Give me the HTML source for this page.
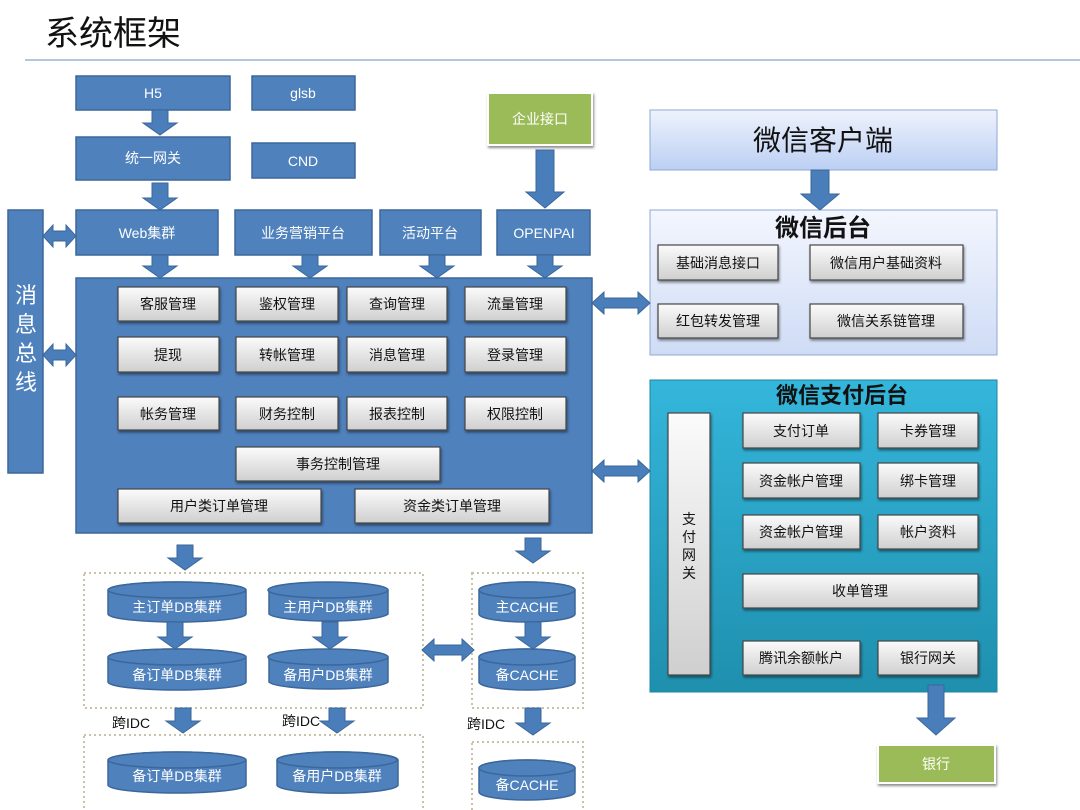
<!DOCTYPE html>
<html><head><meta charset="utf-8"><style>
html,body{margin:0;padding:0;background:#fff;}
svg{display:block;font-family:"Liberation Sans","Noto Sans CJK SC",sans-serif;}
.b{fill:#4f81bd;stroke:#3b679a;stroke-width:1.5}
.a{fill:#4a7ebb;stroke:#3b679a;stroke-width:1}
.w{fill:#fff;font-size:14px;text-anchor:middle}
.g{fill:url(#gg);stroke:#444;stroke-width:1.2;filter:url(#sh)}
.t{fill:#111;font-size:14px;text-anchor:middle}
.d{fill:none;stroke:#c9c2a4;stroke-width:2;stroke-dasharray:2 3}
</style></head><body>
<svg width="1080" height="810" viewBox="0 0 1080 810">
<defs>
<linearGradient id="gg" x1="0" y1="0" x2="0" y2="1"><stop offset="0" stop-color="#fbfbfb"/><stop offset="1" stop-color="#cfcfcf"/></linearGradient>
<linearGradient id="lb" x1="0" y1="0" x2="0" y2="1"><stop offset="0" stop-color="#eef3fd"/><stop offset="1" stop-color="#bccff3"/></linearGradient>
<linearGradient id="lb2" x1="0" y1="0" x2="0" y2="1"><stop offset="0" stop-color="#f3f6fd"/><stop offset="1" stop-color="#cfdcf6"/></linearGradient>
<linearGradient id="tl" x1="0" y1="0" x2="0" y2="1"><stop offset="0" stop-color="#34b6db"/><stop offset="1" stop-color="#1f8fae"/></linearGradient>
<filter id="sh" x="-10%" y="-10%" width="130%" height="140%"><feDropShadow dx="1" dy="2" stdDeviation="1.2" flood-color="#000" flood-opacity="0.45"/></filter>
</defs>
<text x="45" y="45" font-size="34" fill="#111">系统框架</text>
<line x1="25" y1="60" x2="1080" y2="60" stroke="#8aa3c4" stroke-width="1.2"/>

<!-- top boxes -->
<rect class="b" x="76" y="76" width="154" height="34"/><text class="w" x="153" y="98">H5</text>
<rect class="b" x="252" y="76" width="103" height="34"/><text class="w" x="303" y="98">glsb</text>
<rect class="b" x="76" y="137" width="154" height="43"/><text class="w" x="153" y="163">统一网关</text>
<rect class="b" x="252" y="143" width="103" height="35"/><text class="w" x="303" y="166">CND</text>
<rect class="b" x="76" y="210" width="142" height="45"/><text class="w" x="147" y="238">Web集群</text>
<rect class="b" x="235" y="210" width="137" height="45"/><text class="w" x="303" y="238">业务营销平台</text>
<rect class="b" x="380" y="210" width="101" height="45"/><text class="w" x="430" y="238">活动平台</text>
<rect class="b" x="497" y="210" width="93" height="45"/><text class="w" x="544" y="238">OPENPAI</text>
<rect x="488" y="93" width="104" height="52" fill="#9bbb59" stroke="#fff" stroke-width="2" filter="url(#sh)"/><text class="w" x="540" y="124" font-size="15">企业接口</text>

<!-- bus -->
<rect class="b" x="8" y="210" width="35" height="263"/>
<text fill="#fff" font-size="22" text-anchor="middle"><tspan x="26" y="303">消</tspan><tspan x="26" y="332">息</tspan><tspan x="26" y="361">总</tspan><tspan x="26" y="390">线</tspan></text>

<!-- main -->
<rect class="b" x="76" y="278" width="516" height="255"/>
<g>
<rect class="g" x="118" y="287" width="101" height="34"/><text class="t" x="168" y="309">客服管理</text>
<rect class="g" x="236" y="287" width="102" height="34"/><text class="t" x="287" y="309">鉴权管理</text>
<rect class="g" x="347" y="287" width="100" height="34"/><text class="t" x="397" y="309">查询管理</text>
<rect class="g" x="465" y="287" width="101" height="34"/><text class="t" x="515" y="309">流量管理</text>
<rect class="g" x="118" y="337" width="101" height="35"/><text class="t" x="168" y="360">提现</text>
<rect class="g" x="236" y="337" width="102" height="35"/><text class="t" x="287" y="360">转帐管理</text>
<rect class="g" x="347" y="337" width="100" height="35"/><text class="t" x="397" y="360">消息管理</text>
<rect class="g" x="465" y="337" width="101" height="35"/><text class="t" x="515" y="360">登录管理</text>
<rect class="g" x="118" y="397" width="101" height="33"/><text class="t" x="168" y="419">帐务管理</text>
<rect class="g" x="236" y="397" width="102" height="33"/><text class="t" x="287" y="419">财务控制</text>
<rect class="g" x="347" y="397" width="100" height="33"/><text class="t" x="397" y="419">报表控制</text>
<rect class="g" x="465" y="397" width="101" height="33"/><text class="t" x="515" y="419">权限控制</text>
<rect class="g" x="236" y="447" width="204" height="34"/><text class="t" x="338" y="469">事务控制管理</text>
<rect class="g" x="118" y="489" width="203" height="34"/><text class="t" x="219" y="511">用户类订单管理</text>
<rect class="g" x="355" y="489" width="194" height="34"/><text class="t" x="452" y="511">资金类订单管理</text>
</g>

<!-- wechat client -->
<rect x="650" y="110" width="347" height="60" fill="url(#lb)" stroke="#8ea7d6" stroke-width="1"/>
<text x="823" y="150" font-size="28" fill="#111" text-anchor="middle">微信客户端</text>
<rect x="650" y="210" width="347" height="145" fill="url(#lb2)" stroke="#8ea7d6" stroke-width="1"/>
<text x="823" y="236" font-size="24" font-weight="bold" fill="#111" text-anchor="middle">微信后台</text>
<rect class="g" x="658" y="245" width="120" height="35"/><text class="t" x="718" y="268">基础消息接口</text>
<rect class="g" x="810" y="245" width="153" height="35"/><text class="t" x="886" y="268">微信用户基础资料</text>
<rect class="g" x="658" y="304" width="120" height="34"/><text class="t" x="718" y="326">红包转发管理</text>
<rect class="g" x="810" y="304" width="153" height="34"/><text class="t" x="886" y="326">微信关系链管理</text>

<!-- pay -->
<rect x="650" y="380" width="347" height="312" fill="url(#tl)" stroke="#1d86a3" stroke-width="1"/>
<text x="842" y="403" font-size="22" font-weight="bold" fill="#111" text-anchor="middle">微信支付后台</text>
<rect class="g" x="668" y="413" width="42" height="262"/>
<text fill="#111" font-size="14" text-anchor="middle"><tspan x="689" y="524">支</tspan><tspan x="689" y="542">付</tspan><tspan x="689" y="560">网</tspan><tspan x="689" y="578">关</tspan></text>
<rect class="g" x="743" y="413" width="117" height="35"/><text class="t" x="801" y="436">支付订单</text>
<rect class="g" x="878" y="413" width="100" height="35"/><text class="t" x="928" y="436">卡券管理</text>
<rect class="g" x="743" y="463" width="117" height="35"/><text class="t" x="801" y="486">资金帐户管理</text>
<rect class="g" x="878" y="463" width="100" height="35"/><text class="t" x="928" y="486">绑卡管理</text>
<rect class="g" x="743" y="515" width="117" height="34"/><text class="t" x="801" y="537">资金帐户管理</text>
<rect class="g" x="878" y="515" width="100" height="34"/><text class="t" x="928" y="537">帐户资料</text>
<rect class="g" x="743" y="574" width="235" height="34"/><text class="t" x="860" y="596">收单管理</text>
<rect class="g" x="743" y="641" width="117" height="34"/><text class="t" x="801" y="663">腾讯余额帐户</text>
<rect class="g" x="878" y="641" width="100" height="34"/><text class="t" x="928" y="663">银行网关</text>
<rect x="878" y="745" width="117" height="38" fill="#9bbb59" stroke="#fff" stroke-width="2" filter="url(#sh)"/><text class="w" x="936" y="769" font-size="15">银行</text>

<!-- dotted groups -->
<rect class="d" x="84" y="573" width="339" height="135"/>
<rect class="d" x="84" y="735" width="339" height="80"/>
<rect class="d" x="472" y="573" width="111" height="135"/>
<rect class="d" x="472" y="742" width="111" height="73"/>

<!-- cylinders -->
<g class="b">
<path d="M108,590 A69,8 0 0 1 246,590 L246,614 A69,8 0 0 1 108,614 Z"/><ellipse cx="177" cy="590" rx="69" ry="8"/>
<path d="M108,657 A69,8 0 0 1 246,657 L246,682 A69,8 0 0 1 108,682 Z"/><ellipse cx="177" cy="657" rx="69" ry="8"/>
<path d="M269,590 A60,8 0 0 1 388,590 L388,614 A60,8 0 0 1 269,614 Z"/><ellipse cx="328" cy="590" rx="60" ry="8"/>
<path d="M269,657 A60,8 0 0 1 388,657 L388,682 A60,8 0 0 1 269,682 Z"/><ellipse cx="328" cy="657" rx="60" ry="8"/>
<path d="M108,760 A69,8 0 0 1 246,760 L246,785 A69,8 0 0 1 108,785 Z"/><ellipse cx="177" cy="760" rx="69" ry="8"/>
<path d="M277,760 A60,8 0 0 1 398,760 L398,785 A60,8 0 0 1 277,785 Z"/><ellipse cx="337" cy="760" rx="60" ry="8"/>
<path d="M479,590 A48,8 0 0 1 575,590 L575,614 A48,8 0 0 1 479,614 Z"/><ellipse cx="527" cy="590" rx="48" ry="8"/>
<path d="M479,657 A48,8 0 0 1 575,657 L575,682 A48,8 0 0 1 479,682 Z"/><ellipse cx="527" cy="657" rx="48" ry="8"/>
<path d="M479,768 A48,8 0 0 1 575,768 L575,792 A48,8 0 0 1 479,792 Z"/><ellipse cx="527" cy="768" rx="48" ry="8"/>
</g>
<text class="w" x="177" y="612">主订单DB集群</text>
<text class="w" x="177" y="680">备订单DB集群</text>
<text class="w" x="328" y="612">主用户DB集群</text>
<text class="w" x="328" y="680">备用户DB集群</text>
<text class="w" x="177" y="781">备订单DB集群</text>
<text class="w" x="337" y="781">备用户DB集群</text>
<text class="w" x="527" y="612">主CACHE</text>
<text class="w" x="527" y="680">备CACHE</text>
<text class="w" x="527" y="790">备CACHE</text>
<text x="112" y="728" font-size="14" fill="#111">跨IDC</text>
<text x="282" y="726" font-size="14" fill="#111">跨IDC</text>
<text x="467" y="729" font-size="14" fill="#111">跨IDC</text>

<!-- down arrows -->
<g class="a">
<polygon points="152,110 168,110 168,123 177,123 160,135 143,123 152,123"/>
<polygon points="152,183 168,183 168,198 177,198 160,210 143,198 152,198"/>
<polygon points="152,255 168,255 168,266 177,266 160,278 143,266 152,266"/>
<polygon points="302,255 318,255 318,266 327,266 310,278 293,266 302,266"/>
<polygon points="429,255 445,255 445,266 454,266 437,278 420,266 429,266"/>
<polygon points="537,255 553,255 553,266 562,266 545,278 528,266 537,266"/>
<polygon points="536,150 554,150 554,192 564,192 545,208 526,192 536,192"/>
<polygon points="811,170 829,170 829,194 839,194 820,210 801,194 811,194"/>
<polygon points="177,545 193,545 193,558 202,558 185,570 168,558 177,558"/>
<polygon points="525,538 541,538 541,551 550,551 533,563 516,551 525,551"/>
<polygon points="167,622 183,622 183,637 192,637 175,649 158,637 167,637"/>
<polygon points="322,622 338,622 338,637 347,637 330,649 313,637 322,637"/>
<polygon points="525,622 541,622 541,637 550,637 533,649 516,637 525,637"/>
<polygon points="175,708 191,708 191,721 200,721 183,733 166,721 175,721"/>
<polygon points="329,708 345,708 345,721 354,721 337,733 320,721 329,721"/>
<polygon points="525,708 541,708 541,723 550,723 533,735 516,723 525,723"/>
<polygon points="928,685 944,685 944,718 955,718 936,735 917,718 928,718"/>
</g>
<!-- double arrows -->
<g class="a">
<polygon points="43,236 53,225 53,231 66,231 66,225 76,236 66,247 66,241 53,241 53,247"/>
<polygon points="43,355 53,344 53,350 66,350 66,344 76,355 66,366 66,360 53,360 53,366"/>
<polygon points="592,303 604,292 604,298 638,298 638,292 650,303 638,314 638,308 604,308 604,314"/>
<polygon points="592,471 604,460 604,466 638,466 638,460 650,471 638,482 638,476 604,476 604,482"/>
<polygon points="422,650 434,639 434,645 462,645 462,639 474,650 462,661 462,655 434,655 434,661"/>
</g>
</svg>
</body></html>
